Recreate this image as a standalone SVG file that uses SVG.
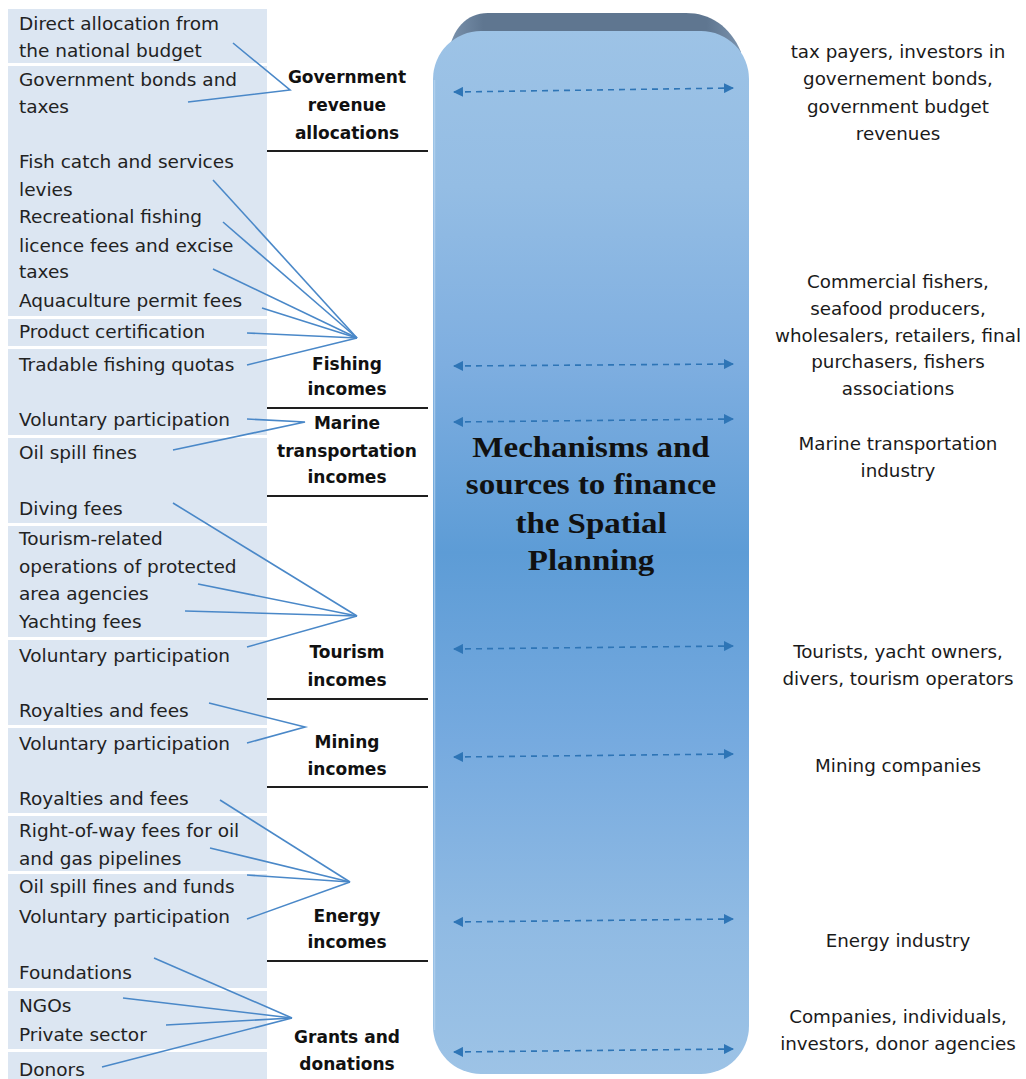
<svg xmlns="http://www.w3.org/2000/svg" width="1026" height="1079" viewBox="0 0 1026 1079">
  <defs>
    <linearGradient id="pillarFill" x1="0" y1="30" x2="0" y2="1075" gradientUnits="userSpaceOnUse">
      <stop offset="0" stop-color="#9dc3e6"/>
      <stop offset="0.15" stop-color="#94bde4"/>
      <stop offset="0.32" stop-color="#7eaee0"/>
      <stop offset="0.5" stop-color="#5d9cd6"/>
      <stop offset="0.68" stop-color="#76aadf"/>
      <stop offset="0.85" stop-color="#8fbae3"/>
      <stop offset="1" stop-color="#9dc3e6"/>
    </linearGradient>
    <linearGradient id="bevelFill" x1="448" y1="0" x2="742" y2="0" gradientUnits="userSpaceOnUse">
      <stop offset="0" stop-color="#7b93ae"/>
      <stop offset="0.12" stop-color="#5f7690"/>
      <stop offset="0.88" stop-color="#5f7690"/>
      <stop offset="1" stop-color="#7b93ae"/>
    </linearGradient>
    <marker id="tip" viewBox="0 0 10 10" refX="9" refY="5" markerWidth="10" markerHeight="10" markerUnits="userSpaceOnUse" orient="auto-start-reverse">
      <path d="M0,0 L10,5 L0,10 Z" fill="#2e75b6"/>
    </marker>
    <style>
      .cell { fill: #dce6f2; }
      .item { font-family: "DejaVu Sans", "Liberation Sans", sans-serif; font-size: 18.5px; fill: #222; }
      .payer { font-family: "DejaVu Sans", "Liberation Sans", sans-serif; font-size: 18.3px; fill: #1a1a1a; text-anchor: middle; }
      .cat { font-family: "DejaVu Sans", "Liberation Sans", sans-serif; font-size: 17px; font-weight: bold; fill: #111; text-anchor: middle; }
      .rule { stroke: #1e1e1e; stroke-width: 2; }
      .feed { stroke: #4a88c8; stroke-width: 1.6; fill: none; }
      .flow { stroke: #2e75b6; stroke-width: 1.6; stroke-dasharray: 6 5; fill: none; marker-start: url(#tip); marker-end: url(#tip); }
      .title { font-family: "Liberation Serif", "Times New Roman", serif; font-size: 30px; font-weight: bold; fill: #111; text-anchor: middle; }
    </style>
  </defs>

  <rect width="1026" height="1079" fill="#ffffff"/>

  <!-- left column of funding instruments -->
  <g id="instruments">
    <rect class="cell" x="8" y="9" width="259" height="54"/>
    <rect class="cell" x="8" y="66" width="259" height="250"/>
    <rect class="cell" x="8" y="319" width="259" height="27"/>
    <rect class="cell" x="8" y="349" width="259" height="86"/>
    <rect class="cell" x="8" y="438" width="259" height="85"/>
    <rect class="cell" x="8" y="526" width="259" height="111"/>
    <rect class="cell" x="8" y="640" width="259" height="85"/>
    <rect class="cell" x="8" y="728" width="259" height="85"/>
    <rect class="cell" x="8" y="816" width="259" height="55"/>
    <rect class="cell" x="8" y="874" width="259" height="114"/>
    <rect class="cell" x="8" y="991" width="259" height="58"/>
    <rect class="cell" x="8" y="1052" width="259" height="27"/>

    <text class="item" x="19" y="30">Direct allocation from</text>
    <text class="item" x="19" y="57">the national budget</text>
    <text class="item" x="19" y="86">Government bonds and</text>
    <text class="item" x="19" y="113">taxes</text>
    <text class="item" x="19" y="168">Fish catch and services</text>
    <text class="item" x="19" y="196">levies</text>
    <text class="item" x="19" y="223">Recreational fishing</text>
    <text class="item" x="19" y="252">licence fees and excise</text>
    <text class="item" x="19" y="278">taxes</text>
    <text class="item" x="19" y="307">Aquaculture permit fees</text>
    <text class="item" x="19" y="338">Product certification</text>
    <text class="item" x="19" y="371">Tradable fishing quotas</text>
    <text class="item" x="19" y="426">Voluntary participation</text>
    <text class="item" x="19" y="459">Oil spill fines</text>
    <text class="item" x="19" y="515">Diving fees</text>
    <text class="item" x="19" y="545">Tourism-related</text>
    <text class="item" x="19" y="573">operations of protected</text>
    <text class="item" x="19" y="600">area agencies</text>
    <text class="item" x="19" y="628">Yachting fees</text>
    <text class="item" x="19" y="662">Voluntary participation</text>
    <text class="item" x="19" y="717">Royalties and fees</text>
    <text class="item" x="19" y="750">Voluntary participation</text>
    <text class="item" x="19" y="805">Royalties and fees</text>
    <text class="item" x="19" y="837">Right-of-way fees for oil</text>
    <text class="item" x="19" y="865">and gas pipelines</text>
    <text class="item" x="19" y="893">Oil spill fines and funds</text>
    <text class="item" x="19" y="923">Voluntary participation</text>
    <text class="item" x="19" y="979">Foundations</text>
    <text class="item" x="19" y="1012">NGOs</text>
    <text class="item" x="19" y="1041">Private sector</text>
    <text class="item" x="19" y="1076">Donors</text>
  </g>

  <!-- income categories -->
  <g id="cat-government">
    <text class="cat" x="347" y="83">Government</text>
    <text class="cat" x="347" y="111">revenue</text>
    <text class="cat" x="347" y="139">allocations</text>
    <line class="rule" x1="267" y1="151" x2="428" y2="151"/>
  </g>
  <g id="cat-fishing">
    <text class="cat" x="347" y="370">Fishing</text>
    <text class="cat" x="347" y="395">incomes</text>
    <line class="rule" x1="267" y1="408" x2="428" y2="408"/>
  </g>
  <g id="cat-marine">
    <text class="cat" x="347" y="429">Marine</text>
    <text class="cat" x="347" y="457">transportation</text>
    <text class="cat" x="347" y="483">incomes</text>
    <line class="rule" x1="267" y1="496" x2="428" y2="496"/>
  </g>
  <g id="cat-tourism">
    <text class="cat" x="347" y="658">Tourism</text>
    <text class="cat" x="347" y="686">incomes</text>
    <line class="rule" x1="267" y1="699" x2="428" y2="699"/>
  </g>
  <g id="cat-mining">
    <text class="cat" x="347" y="748">Mining</text>
    <text class="cat" x="347" y="775">incomes</text>
    <line class="rule" x1="267" y1="787" x2="428" y2="787"/>
  </g>
  <g id="cat-energy">
    <text class="cat" x="347" y="922">Energy</text>
    <text class="cat" x="347" y="948">incomes</text>
    <line class="rule" x1="267" y1="961" x2="428" y2="961"/>
  </g>
  <g id="cat-grants">
    <text class="cat" x="347" y="1043">Grants and</text>
    <text class="cat" x="347" y="1070">donations</text>
  </g>

  <!-- central pillar with its bevelled top -->
  <g id="pillar">
    <path d="M449,52 C452,30 466,13 488,13 L686,13 C710,13 730,26 741,52 L741,70 L449,70 Z" fill="url(#bevelFill)"/>
    <rect x="433" y="31" width="316" height="1043" rx="48" ry="48" fill="url(#pillarFill)"/>
    <line x1="434.5" y1="80" x2="434.5" y2="1030" stroke="#b9d5ef" stroke-width="1.5" opacity="0.7"/>
    <g transform="translate(591 0) scale(1.1 1)">
      <text class="title" x="0" y="457">Mechanisms and</text>
      <text class="title" x="0" y="494">sources to finance</text>
      <text class="title" x="0" y="533">the Spatial</text>
      <text class="title" x="0" y="570">Planning</text>
    </g>
  </g>

  <!-- payer groups -->
  <g id="payers-government">
    <text class="payer" x="898" y="58">tax payers, investors in</text>
    <text class="payer" x="898" y="85">governement bonds,</text>
    <text class="payer" x="898" y="113">government budget</text>
    <text class="payer" x="898" y="140">revenues</text>
  </g>
  <g id="payers-fishing">
    <text class="payer" x="898" y="288">Commercial fishers,</text>
    <text class="payer" x="898" y="315">seafood producers,</text>
    <text class="payer" x="898" y="342">wholesalers, retailers, final</text>
    <text class="payer" x="898" y="368">purchasers, fishers</text>
    <text class="payer" x="898" y="395">associations</text>
  </g>
  <g id="payers-marine">
    <text class="payer" x="898" y="450">Marine transportation</text>
    <text class="payer" x="898" y="477">industry</text>
  </g>
  <g id="payers-tourism">
    <text class="payer" x="898" y="658">Tourists, yacht owners,</text>
    <text class="payer" x="898" y="685">divers, tourism operators</text>
  </g>
  <g id="payers-mining">
    <text class="payer" x="898" y="772">Mining companies</text>
  </g>
  <g id="payers-energy">
    <text class="payer" x="898" y="947">Energy industry</text>
  </g>
  <g id="payers-grants">
    <text class="payer" x="898" y="1023">Companies, individuals,</text>
    <text class="payer" x="898" y="1050">investors, donor agencies</text>
  </g>

  <!-- connectors -->
  <g id="connectors">
    <!-- instrument feeds into each income category -->
    <polyline class="feed" points="233,43 290,90 188,102"/>
    <line class="feed" x1="213" y1="180" x2="357" y2="338"/>
    <line class="feed" x1="223" y1="222" x2="357" y2="338"/>
    <line class="feed" x1="213" y1="269" x2="357" y2="338"/>
    <line class="feed" x1="262" y1="308" x2="357" y2="338"/>
    <line class="feed" x1="247" y1="333" x2="357" y2="338"/>
    <line class="feed" x1="247" y1="365" x2="357" y2="338"/>
    <polyline class="feed" points="247,419 305,422 173,450"/>
    <line class="feed" x1="173" y1="503" x2="357" y2="616"/>
    <line class="feed" x1="198" y1="584" x2="357" y2="616"/>
    <line class="feed" x1="185" y1="611" x2="357" y2="616"/>
    <line class="feed" x1="247" y1="647" x2="357" y2="616"/>
    <polyline class="feed" points="209,703 305,727 247,743"/>
    <line class="feed" x1="220" y1="800" x2="350" y2="882"/>
    <line class="feed" x1="210" y1="848" x2="350" y2="882"/>
    <line class="feed" x1="247" y1="875" x2="350" y2="882"/>
    <line class="feed" x1="247" y1="919" x2="350" y2="882"/>
    <line class="feed" x1="154" y1="958" x2="292" y2="1018"/>
    <line class="feed" x1="123" y1="998" x2="292" y2="1018"/>
    <line class="feed" x1="166" y1="1025" x2="292" y2="1018"/>
    <line class="feed" x1="102" y1="1067" x2="292" y2="1018"/>

    <!-- two-way flows across the pillar -->
    <line class="flow" x1="454" y1="92" x2="733" y2="88"/>
    <line class="flow" x1="454" y1="366" x2="733" y2="364"/>
    <line class="flow" x1="454" y1="422" x2="733" y2="419"/>
    <line class="flow" x1="454" y1="649" x2="733" y2="646"/>
    <line class="flow" x1="454" y1="757" x2="733" y2="754"/>
    <line class="flow" x1="454" y1="922" x2="733" y2="919"/>
    <line class="flow" x1="454" y1="1052" x2="733" y2="1049"/>
  </g>
</svg>
